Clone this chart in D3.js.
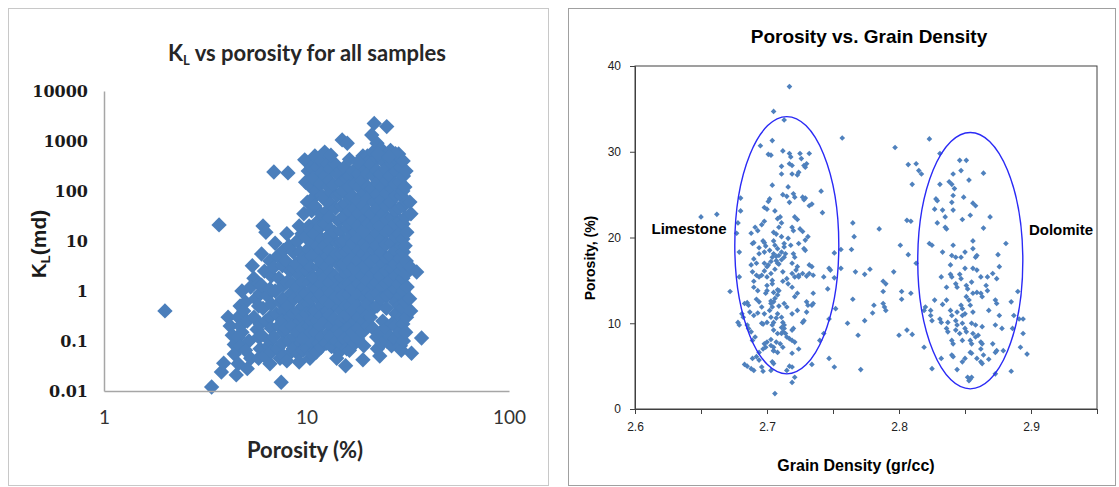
<!DOCTYPE html>
<html>
<head>
<meta charset="utf-8">
<script src="https://cdn.jsdelivr.net/npm/d3@7"></script>
<style>
  body { margin: 0; background: #fff; }
  svg { display: block; }
</style>
</head>
<body>
<div id="chart"></div>
<script>
// ---- data: left chart, [porosity %, K_L md] ----
var klPoints = [
  [2.0,0.4],[3.7,21],[3.4,0.012],[3.8,0.024],[3.9,0.036],[4.1,0.3],[4.2,0.2],[4.3,0.13],[4.4,0.085],[4.5,0.021],[4.4,0.055],[4.6,0.035],
  [4.7,0.5],[4.6,0.3],[4.7,0.2],[4.6,0.12],[4.7,0.08],
  [4.8,1.0],[5.0,0.6],[4.9,0.4],[5.1,0.25],[4.8,0.15],[5.2,0.1],[5.0,0.065],[5.3,0.045],[5.1,0.028],[5.4,3.2],[5.5,1.8],[5.3,1.2],[5.6,0.7],[5.5,0.3],[5.7,0.17],
  [5.8,1.4],[5.9,0.9],[5.8,0.5],[5.9,0.22],[5.8,0.12],[5.9,0.07],[5.8,0.045],
  [6.1,20],[6.3,15],[6.0,5.5],[6.2,2.5],[6.0,1.3],[6.4,0.8],[6.1,0.45],[6.3,0.25],[6.0,0.13],[6.5,0.08],[6.2,0.05],[6.6,0.035],
  [6.6,4],[6.7,2],[6.6,1.1],[6.7,0.55],[6.6,0.3],[6.7,0.18],[6.6,0.1],[6.7,0.06],
  [6.9,240],[7.5,0.015],[7.0,9],[7.2,5],[6.9,3],[7.3,1.8],[7.0,1.0],[7.4,0.6],[7.1,0.35],[7.3,0.2],[6.9,0.12],[7.2,0.07],[7.4,0.045],
  [7.7,6.5],[7.6,3.2],[7.7,1.3],[7.6,0.7],[7.7,0.4],[7.6,0.25],[7.7,0.15],[7.6,0.09],[7.7,0.05],
  [8.1,230],[8.0,14],[8.2,8],[7.9,4],[8.3,2.5],[8.0,1.5],[8.4,0.9],[8.1,0.5],[8.3,0.3],[7.9,0.18],[8.2,0.1],[8.4,0.06],[8.0,0.04],
  [8.6,6],[8.7,2.8],[8.5,1.4],[8.7,0.7],[8.6,0.35],[8.5,0.2],[8.7,0.12],[8.6,0.07],
  [9.2,20],[9.0,10],[9.3,6],[8.9,3.5],[9.2,2],[9.0,1.2],[9.4,0.7],[9.1,0.4],[9.3,0.25],[9.0,0.15],[9.4,0.09],[9.1,0.055],[9.2,0.038],
  [9.5,14],[9.6,4.5],[9.5,2.6],[9.6,1.5],[9.5,0.9],[9.6,0.5],[9.5,0.3],[9.6,0.18],[9.5,0.11],[9.6,0.065],
  [9.8,420],[10.2,250],[9.9,150],[10.1,60],[9.7,35],[10.3,20],[9.9,12],[10.2,7],[9.8,4],[10.1,2.5],[10.4,1.5],[9.9,0.9],[10.2,0.55],[10.0,0.35],[10.3,0.2],[9.8,0.12],[10.1,0.07],[10.4,0.045],
  [10.6,300],[10.5,120],[10.7,70],[10.6,40],[10.5,16],[10.7,9],[10.6,5],[10.5,3],[10.7,1.9],[10.6,1.1],[10.5,0.7],[10.7,0.4],[10.6,0.25],[10.5,0.15],[10.7,0.09],[10.6,0.055],
  [11.0,500],[11.3,300],[10.8,180],[11.2,100],[11.0,50],[11.4,25],[10.9,14],[11.3,8],[11.1,5],[11.5,3],[10.9,1.8],[11.2,1.1],[11.4,0.7],[11.0,0.4],[11.3,0.25],[11.1,0.15],[11.5,0.09],[11.2,0.06],
  [11.8,400],[11.9,230],[11.7,140],[11.9,80],[11.8,35],[11.7,19],[11.9,11],[11.8,6.5],[11.7,4],[11.9,2.3],[11.8,1.4],[11.7,0.85],[11.9,0.5],[11.8,0.32],[11.7,0.2],[11.9,0.12],[11.8,0.075],
  [12.3,600],[12.7,350],[12.4,200],[12.8,120],[12.2,70],[12.6,40],[12.4,22],[12.9,13],[12.3,8],[12.7,5],[12.5,3],[12.2,1.8],[12.8,1.1],[12.4,0.65],[12.7,0.4],[12.3,0.25],[12.9,0.15],[12.5,0.09],[13.3,0.077],
  [13.1,280],[13.0,160],[13.2,95],[13.1,55],[13.0,30],[13.2,17],[13.1,10],[13.0,6.5],[13.2,4],[13.1,2.4],[13.0,1.5],[13.2,0.9],[13.1,0.55],[13.0,0.33],[13.2,0.2],[13.1,0.12],
  [13.8,350],[14.2,220],[13.6,130],[14.1,80],[13.9,45],[14.4,25],[13.7,15],[14.2,9],[14.0,5.5],[14.5,3.3],[13.8,2],[14.3,1.2],[14.0,0.75],[14.4,0.45],[13.7,0.28],[14.2,0.17],[14.0,0.1],[14.5,0.06],[14.1,0.045],
  [14.8,260],[14.9,150],[14.7,90],[14.9,50],[14.8,28],[14.7,16],[14.9,9.5],[14.8,5.5],[14.7,3.2],[14.9,1.9],[14.8,1.1],[14.7,0.65],[14.9,0.4],[14.8,0.24],[14.7,0.14],[14.9,0.085],
  [15.0,1050],[15.9,900],[15.4,300],[15.8,180],[15.2,100],[15.6,55],[15.3,30],[15.9,18],[15.4,10],[15.7,6],[15.2,3.5],[15.8,2.1],[15.5,1.3],[15.1,0.8],[15.7,0.5],[15.3,0.3],[15.9,0.18],[15.4,0.11],[15.8,0.07],[15.6,0.032],
  [16.3,200],[16.2,120],[16.4,70],[16.3,40],[16.2,22],[16.4,12],[16.3,7],[16.2,4],[16.4,2.4],[16.3,1.4],[16.2,0.85],[16.4,0.5],[16.3,0.3],[16.2,0.18],[16.4,0.11],[16.3,0.065],
  [17.0,250],[17.4,140],[16.8,80],[17.3,45],[17.0,25],[17.5,15],[16.9,9],[17.3,5],[17.1,3],[17.5,1.8],[16.8,1.1],[17.2,0.65],[17.0,0.4],[17.4,0.25],[16.9,0.15],[17.3,0.09],
  [18.0,220],[18.1,120],[17.9,65],[18.1,35],[18.0,20],[17.9,11],[18.1,6.5],[18.0,4],[17.9,2.4],[18.1,1.4],[18.0,0.85],[17.9,0.5],[18.1,0.3],[18.0,0.18],[17.9,0.11],
  [19.0,500],[19.4,280],[18.8,160],[19.3,90],[19.0,50],[19.5,28],[18.9,16],[19.3,9],[19.0,5.5],[19.4,3.2],[18.8,2],[19.2,1.2],[19.5,0.7],[19.0,0.42],[19.3,0.25],[18.9,0.15],[19.2,0.08],[19.0,0.042],
  [20.0,500],[20.1,380],[19.9,220],[20.1,120],[20.0,70],[19.9,40],[20.1,22],[20.0,13],[19.9,7.5],[20.1,4.5],[20.0,2.6],[19.9,1.6],[20.1,0.95],[20.0,0.55],[19.9,0.32],[20.1,0.2],
  [21.6,2250],[21.0,1320],[21.3,600],[20.8,350],[21.4,200],[21.0,110],[21.5,60],[20.9,35],[21.3,20],[21.1,11],[21.6,6.5],[20.8,3.8],[21.2,2.2],[21.5,1.3],[21.0,0.8],[21.4,0.45],[20.7,0.3],[21.3,0.18],
  [22.3,900],[22.4,450],[22.2,260],[22.4,150],[22.3,85],[22.2,45],[22.4,25],[22.3,14],[22.2,8],[22.4,4.5],[22.3,2.6],[22.2,1.5],[22.4,0.9],[22.3,0.5],[22.2,0.12],[22.4,0.07],
  [24.9,1940],[23.3,700],[23.8,400],[23.2,220],[23.7,120],[23.4,65],[23.9,35],[23.1,20],[23.6,11],[23.3,6],[23.9,3.5],[23.2,2],[23.7,1.2],[23.4,0.7],[23.8,0.25],[23.2,0.15],[23.6,0.09],[23.0,0.05],
  [24.8,500],[24.7,280],[24.9,160],[24.8,90],[24.7,50],[24.9,27],[24.8,15],[24.7,8.5],[24.9,4.5],[24.8,2.5],[24.7,1.4],[24.9,0.8],[24.8,0.45],[24.7,0.18],[24.9,0.1],
  [26.0,650],[26.5,350],[25.8,200],[26.4,110],[26.0,60],[26.6,30],[25.9,17],[26.3,9],[26.0,5],[26.5,2.8],[25.8,1.6],[26.2,0.9],[26.4,0.22],[25.9,0.12],[26.3,0.08],
  [27.5,450],[27.6,250],[27.4,140],[27.6,80],[27.5,40],[27.4,22],[27.6,12],[27.5,6.5],[27.4,3.5],[27.6,2],[27.5,1.1],[27.4,0.6],[27.6,0.35],[27.5,0.2],[27.4,0.11],
  [28.5,550],[29.2,300],[28.8,150],[29.4,80],[28.6,45],[29.1,25],[28.7,14],[29.3,8],[28.9,4.5],[29.4,2.5],[28.6,1.4],[29.2,0.8],[28.8,0.5],[29.3,0.3],[28.7,0.15],[29.1,0.08],[29.4,0.065],
  [30.0,400],[30.1,200],[29.9,100],[30.1,50],[30.0,22],[29.9,11],[30.1,6],[30.0,3.2],[29.9,1.8],[30.1,1.0],[30.0,0.45],[29.9,0.22],[30.1,0.1],
  [31.0,250],[30.6,120],[31.2,60],[30.8,30],[31.3,15],[30.7,8],[31.1,4],[30.9,2.2],[31.4,1.2],[30.8,0.6],[31.2,0.3],[30.9,0.15],
  [32.4,60],[32.8,35],[32.6,3],[32.3,0.7],[32.7,0.4],[35,2.4],[37,0.115],[33,0.057],
  [13.2,520],[16.3,430],[18.0,380],[22.5,550],[27.5,560],[25.5,480]
];
var klTicksY = [0.01, 0.1, 1, 10, 100, 1000, 10000];
var klTickLabelsY = ["0.01", "0.1", "1", "10", "100", "1000", "10000"];
var klTicksX = [1, 10, 100];

// ---- data: right chart, [grain density gr/cc, porosity %] ----
var limestonePoints = [
  [2.717,37.6],[2.705,34.7],[2.713,33.7],[2.695,30.7],[2.704,31.3],[2.701,29.7],[2.703,29.6],[2.712,30.1],[2.717,29.8],[2.718,29.4],[2.725,29.8],[2.732,29.8],[2.726,29.2],[2.717,28.6],[2.719,28.4],[2.711,28.3],[2.728,28.4],[2.730,28.6],[2.729,28.2],[2.711,27.4],[2.719,27.4],[2.723,27.3],[2.724,27.6],[2.704,26.1],[2.716,25.9],[2.712,25.0],[2.715,24.8],[2.720,25.1],[2.721,24.7],[2.717,24.1],[2.702,24.5],[2.701,24.2],[2.680,24.6],[2.698,23.5],[2.700,23.3],[2.706,23.1],[2.727,24.7],[2.729,24.6],[2.728,24.4],[2.732,23.7],[2.734,23.9],[2.741,25.4],[2.742,22.9],[2.680,23.1],[2.708,22.2],[2.710,22.4],[2.721,22.4],[2.723,22.1],[2.711,21.7],[2.709,21.2],[2.698,21.9],[2.696,21.5],[2.691,21.2],[2.693,20.8],[2.688,20.5],[2.705,20.6],[2.707,20.4],[2.719,21.2],[2.720,20.8],[2.725,21.0],[2.727,20.7],[2.678,21.7],[2.677,20.5],[2.731,20.1],[2.650,22.4],[2.662,22.7],
  [2.689,19.3],[2.690,19.4],[2.697,19.6],[2.698,19.4],[2.705,19.6],[2.706,19.1],[2.711,20.1],[2.713,19.3],[2.718,19.1],[2.724,19.3],[2.729,19.7],[2.679,18.3],[2.694,18.1],[2.698,18.3],[2.702,18.5],[2.704,17.7],[2.705,18.1],[2.708,18.7],[2.709,17.9],[2.711,18.3],[2.713,17.7],[2.714,18.1],[2.720,18.1],[2.721,17.7],[2.728,18.7],[2.729,18.5],[2.751,18.2],
  [2.690,17.5],[2.692,17.0],[2.698,17.0],[2.700,16.6],[2.707,17.3],[2.708,17.0],[2.719,17.0],[2.723,16.6],[2.732,16.8],[2.734,16.6],[2.747,16.4],[2.748,16.2],[2.679,15.4],[2.689,16.0],[2.692,15.6],[2.694,15.4],[2.700,15.4],[2.703,15.8],[2.704,15.0],[2.712,16.0],[2.715,15.2],[2.721,15.4],[2.724,15.6],[2.727,15.8],[2.730,15.5],[2.732,15.8],[2.735,15.6],[2.743,15.4],[2.751,15.3],[2.746,14.0],[2.672,13.7],[2.690,14.2],[2.693,13.8],[2.699,13.5],[2.700,13.8],[2.705,13.6],[2.708,13.3],[2.709,13.8],[2.716,14.6],[2.719,14.2],[2.723,13.5],[2.721,13.1],[2.735,13.5],
  [2.683,12.3],[2.686,12.1],[2.694,12.5],[2.696,11.9],[2.703,12.3],[2.704,11.9],[2.705,12.5],[2.713,12.3],[2.715,11.9],[2.730,12.5],[2.731,12.1],[2.734,12.1],[2.735,12.3],[2.752,11.7],[2.681,11.1],[2.682,10.7],[2.690,10.9],[2.693,11.2],[2.698,11.1],[2.703,10.7],[2.708,11.1],[2.711,10.7],[2.719,11.1],[2.723,11.5],[2.730,11.3],[2.678,10.1],[2.679,9.8],[2.685,9.8],[2.696,10.0],[2.697,9.9],[2.700,10.1],[2.704,9.8],[2.705,10.1],[2.712,10.1],[2.713,9.8],[2.727,10.1],[2.728,10.3],[2.747,10.5],
  [2.686,9.4],[2.688,9.0],[2.705,9.2],[2.708,8.8],[2.712,9.0],[2.713,9.4],[2.719,9.2],[2.720,9.4],[2.743,8.8],[2.691,8.4],[2.689,8.0],[2.711,8.8],[2.715,8.4],[2.740,8.0],[2.698,7.6],[2.700,7.8],[2.703,7.4],[2.705,7.2],[2.707,7.8],[2.710,7.6],[2.712,7.2],[2.719,8.0],[2.721,7.8],[2.724,7.0],[2.694,6.6],[2.697,7.0],[2.705,6.8],[2.708,6.6],[2.719,6.5],[2.689,5.9],[2.692,6.1],[2.694,5.7],[2.704,5.5],[2.705,5.3],[2.747,5.9],[2.683,5.2],[2.685,5.0],[2.688,4.7],[2.690,4.5],[2.696,4.9],[2.697,4.4],[2.703,4.5],[2.715,4.5],[2.717,5.0],[2.719,4.9],[2.734,5.2],[2.751,4.9],[2.721,3.7],[2.719,3.1],[2.706,1.8],
  [2.703,17.2],[2.707,17.8],[2.709,16.9],[2.706,16.3],[2.701,16.8],[2.698,16.1],[2.711,17.4],[2.704,14.6],[2.708,13.9],[2.706,12.9],[2.703,12.6],[2.709,12.0],[2.712,14.9],[2.700,14.4],[2.696,15.6],[2.713,18.9],[2.716,19.9],[2.699,19.0],[2.694,18.8],[2.702,11.5],[2.707,10.6],[2.711,9.5],[2.714,8.8],[2.717,8.2],[2.703,8.1],[2.699,7.2],[2.705,6.8],[2.719,15.8],[2.722,16.2],[2.724,15.4],[2.688,16.8],[2.690,14.9],[2.692,12.8],[2.685,12.4],[2.687,11.3]
];
var transitionPoints = [
  [2.756,18.6],[2.764,18.6],[2.765,21.7],[2.766,20.1],[2.756,16.4],[2.778,16.3],[2.767,16.0],[2.774,15.7],[2.788,14.9],[2.790,14.6],[2.788,13.7],[2.765,12.8],[2.781,12.1],[2.780,11.2],[2.788,12.3],[2.789,11.9],[2.790,11.5],[2.761,10.0],[2.774,10.3],[2.769,8.6],[2.771,4.6],
  [2.757,31.6],[2.797,30.5],[2.785,21.0],[2.823,31.5],[2.831,29.8],[2.807,28.5],[2.813,28.6],[2.815,27.8],[2.817,27.4],[2.810,26.2],[2.806,22.0],[2.809,21.9],[2.801,19.1],[2.807,18.0],[2.813,17.0],[2.796,16.0],[2.802,13.7],[2.809,13.5],[2.802,12.8],[2.800,8.6],[2.810,8.7],[2.806,9.2],[2.819,7.2],[2.820,11.9],[2.819,11.5],[2.824,11.5],[2.824,10.9],[2.825,10.3],[2.825,4.7]
];
var dolomitePoints = [
  [2.831,26.2],[2.828,24.5],[2.829,24.3],[2.827,23.3],[2.833,23.2],[2.835,22.4],[2.829,21.7],[2.835,21.2],[2.836,21.0],[2.823,19.3],[2.825,19.1],[2.833,18.3],[2.838,26.5],[2.840,26.2],[2.841,27.4],[2.846,29.0],[2.851,29.0],[2.842,25.7],[2.841,24.9],[2.840,24.1],[2.841,23.2],[2.847,27.8],[2.853,26.7],[2.849,24.7],[2.848,22.1],[2.854,22.6],[2.856,24.0],[2.858,23.7],[2.864,27.5],[2.869,22.4],[2.864,21.1],[2.881,19.3],[2.856,19.6],[2.841,19.1],
  [2.839,16.8],[2.840,17.9],[2.843,17.7],[2.847,17.7],[2.850,18.3],[2.856,18.7],[2.858,17.7],[2.859,17.9],[2.875,18.0],[2.876,16.6],[2.871,15.8],[2.874,15.2],[2.867,15.4],[2.862,15.4],[2.856,16.4],[2.859,16.2],[2.850,16.4],[2.846,15.7],[2.847,15.2],[2.839,15.7],[2.840,15.4],[2.832,15.4],[2.836,14.2],[2.843,14.6],[2.844,14.2],[2.851,14.4],[2.852,14.0],[2.855,14.8],[2.856,13.5],[2.859,13.6],[2.862,13.5],[2.863,13.1],[2.866,14.4],[2.867,13.8],[2.890,13.7],
  [2.851,13.1],[2.853,12.7],[2.854,12.1],[2.836,12.7],[2.833,12.2],[2.827,12.7],[2.847,12.1],[2.848,11.7],[2.839,11.5],[2.840,10.9],[2.844,11.3],[2.848,10.9],[2.850,11.1],[2.856,11.3],[2.868,11.5],[2.873,12.7],[2.874,12.3],[2.876,10.9],[2.885,12.5],[2.887,10.9],[2.891,10.5],[2.894,10.5],[2.831,10.5],[2.832,10.1],[2.837,10.1],[2.843,10.3],[2.844,9.8],[2.848,10.0],[2.855,10.0],[2.858,9.8],[2.863,9.6],[2.873,9.8],[2.878,9.4],[2.886,9.4],
  [2.836,9.4],[2.837,9.0],[2.843,9.2],[2.846,8.8],[2.850,9.4],[2.851,9.0],[2.856,8.8],[2.858,8.4],[2.860,8.6],[2.894,8.8],[2.840,8.0],[2.841,7.6],[2.848,8.0],[2.854,8.0],[2.855,7.6],[2.862,7.8],[2.863,7.6],[2.871,7.6],[2.892,7.2],[2.897,6.4],[2.862,7.0],[2.879,6.8],[2.873,6.6],[2.874,6.8],[2.840,6.3],[2.841,6.1],[2.854,6.6],[2.855,6.5],[2.850,5.9],[2.859,5.9],[2.864,6.3],[2.868,5.8],[2.832,5.9],[2.862,5.5],[2.863,5.3],[2.848,5.5],[2.844,4.6],[2.873,4.1],[2.885,4.4],[2.852,3.7],[2.854,3.5],[2.855,3.7],[2.853,3.3]
];
var gdTicksX = [2.6, 2.65, 2.7, 2.75, 2.8, 2.85, 2.9, 2.95];
var gdTicksY = [0, 10, 20, 30, 40];
// rock-type ellipses: [centre gd, centre porosity, half-width gd, half-height porosity]
var ellipseLimestone = [2.715, 19.1, 0.0394, 15.0];
var ellipseDolomite = [2.854, 17.3, 0.0398, 14.95];

var svg = d3.select("#chart").append("svg")
  .attr("width", 1119)
  .attr("height", 487);

// panel frames
svg.append("rect").attr("x", 8.5).attr("y", 8.5).attr("width", 540).attr("height", 477)
  .attr("fill", "none").attr("stroke", "#c8c8c8");
svg.append("rect").attr("x", 568.5).attr("y", 8.5).attr("width", 547).attr("height", 477)
  .attr("fill", "none").attr("stroke", "#a0a0a0");

// ================= left chart =================
var xK = d3.scaleLog().domain([1, 100]).range([104, 509]);
var yK = d3.scaleLog().domain([0.01, 10000]).range([391, 91]);

var left = svg.append("g");

var diamondBig = d3.symbol().type(d3.symbolSquare).size(118);
left.selectAll("path.kl")
  .data(klPoints)
  .enter()
  .append("path")
  .attr("class", "kl")
  .attr("d", diamondBig)
  .attr("transform", d => `translate(${xK(d[0])},${yK(d[1])}) rotate(45)`)
  .attr("fill", "#4a7ebb");

var kAxisY = left.append("g")
  .attr("transform", "translate(104,0)")
  .call(d3.axisLeft(yK).tickValues(klTicksY).tickSize(0).tickPadding(16)
    .tickFormat((d, i) => klTickLabelsY[i]));
kAxisY.select(".domain").attr("stroke", "#a6a6a6").attr("stroke-width", 1.5);
kAxisY.selectAll("text")
  .attr("font-family", "DejaVu Serif")
  .attr("font-weight", "bold")
  .attr("font-size", 16)
  .attr("fill", "#1a1a1a");

var kAxisX = left.append("g")
  .attr("transform", "translate(0,391)")
  .call(d3.axisBottom(xK).tickValues(klTicksX).tickSize(0).tickPadding(20)
    .tickFormat(d3.format("d")));
kAxisX.select(".domain").attr("stroke", "#a6a6a6").attr("stroke-width", 1.5);
kAxisX.selectAll("text")
  .attr("font-family", "Lato")
  .attr("font-size", 19)
  .attr("fill", "#333");

var kTitle = left.append("text")
  .attr("x", 307).attr("y", 61)
  .attr("text-anchor", "middle")
  .attr("font-family", "Lato")
  .attr("font-weight", "bold")
  .attr("font-size", 22)
  .attr("fill", "#262626");
kTitle.append("tspan").text("K");
kTitle.append("tspan").attr("font-size", 13).attr("dy", 4).text("L");
kTitle.append("tspan").attr("dy", -4).text(" vs porosity for all samples");

left.append("text")
  .attr("x", 305).attr("y", 458)
  .attr("text-anchor", "middle")
  .attr("font-family", "Lato")
  .attr("font-weight", "bold")
  .attr("font-size", 22)
  .attr("fill", "#262626")
  .text("Porosity (%)");

var kLabel = left.append("text")
  .attr("transform", "translate(46,244) rotate(-90)")
  .attr("text-anchor", "middle")
  .attr("font-family", "Liberation Sans")
  .attr("font-weight", "bold")
  .attr("font-size", 21)
  .attr("fill", "#1a1a1a");
kLabel.append("tspan").text("K");
kLabel.append("tspan").attr("font-size", 13).attr("dy", 4).text("L");
kLabel.append("tspan").attr("dy", -4).text("(md)");

// ================= right chart =================
var xG = d3.scaleLinear().domain([2.6, 2.95]).range([635, 1097]);
var yG = d3.scaleLinear().domain([0, 40]).range([409, 66]);

var right = svg.append("g");

right.append("rect")
  .attr("x", xG(2.6)).attr("y", yG(40))
  .attr("width", xG(2.95) - xG(2.6)).attr("height", yG(0) - yG(40))
  .attr("fill", "none").attr("stroke", "#404040");

var gAxisY = right.append("g")
  .attr("transform", `translate(${xG(2.6)},0)`)
  .call(d3.axisLeft(yG).tickValues(gdTicksY).tickSize(5).tickPadding(9));
gAxisY.selectAll("line, .domain").attr("stroke", "#404040");
gAxisY.selectAll("text").attr("font-family", "Liberation Sans").attr("font-size", 12).attr("fill", "#222");

var gAxisX = right.append("g")
  .attr("transform", `translate(0,${yG(0)})`)
  .call(d3.axisBottom(xG).tickValues(gdTicksX).tickSize(5).tickPadding(8)
    .tickFormat((d, i) => (i % 2 === 0 && i < gdTicksX.length - 1) ? d3.format(".1f")(d) : ""));
gAxisX.selectAll("line, .domain").attr("stroke", "#404040");
gAxisX.selectAll("text").attr("font-family", "Liberation Sans").attr("font-size", 12).attr("fill", "#222");

var diamondSmall = d3.symbol().type(d3.symbolSquare).size(16);
var gdPoints = limestonePoints.concat(transitionPoints, dolomitePoints);
right.selectAll("path.gd")
  .data(gdPoints)
  .enter()
  .append("path")
  .attr("class", "gd")
  .attr("d", diamondSmall)
  .attr("transform", d => `translate(${xG(d[0])},${yG(d[1])}) rotate(45)`)
  .attr("fill", "#4f81bd");

right.selectAll("ellipse")
  .data([ellipseLimestone, ellipseDolomite])
  .enter()
  .append("ellipse")
  .attr("cx", d => xG(d[0]))
  .attr("cy", d => yG(d[1]))
  .attr("rx", d => xG(d[0] + d[2]) - xG(d[0]))
  .attr("ry", d => yG(d[1] - d[3]) - yG(d[1]))
  .attr("fill", "none")
  .attr("stroke", "#2a2af5")
  .attr("stroke-width", 1.4);

right.append("text")
  .attr("x", 869).attr("y", 43)
  .attr("text-anchor", "middle")
  .attr("font-family", "Liberation Sans")
  .attr("font-weight", "bold")
  .attr("font-size", 19)
  .attr("fill", "#000")
  .text("Porosity vs. Grain Density");

right.append("text")
  .attr("x", 856).attr("y", 471)
  .attr("text-anchor", "middle")
  .attr("font-family", "Liberation Sans")
  .attr("font-weight", "bold")
  .attr("font-size", 16)
  .attr("fill", "#000")
  .text("Grain Density (gr/cc)");

right.append("text")
  .attr("transform", "translate(595,258) rotate(-90)")
  .attr("text-anchor", "middle")
  .attr("font-family", "Liberation Sans")
  .attr("font-weight", "bold")
  .attr("font-size", 14)
  .attr("fill", "#000")
  .text("Porosity, (%)");

right.append("text")
  .attr("x", 689).attr("y", 234)
  .attr("text-anchor", "middle")
  .attr("font-family", "Liberation Sans")
  .attr("font-weight", "bold")
  .attr("font-size", 15)
  .attr("fill", "#000")
  .text("Limestone");

right.append("text")
  .attr("x", 1061).attr("y", 235)
  .attr("text-anchor", "middle")
  .attr("font-family", "Liberation Sans")
  .attr("font-weight", "bold")
  .attr("font-size", 15)
  .attr("fill", "#000")
  .text("Dolomite");
</script>
</body>
</html>
